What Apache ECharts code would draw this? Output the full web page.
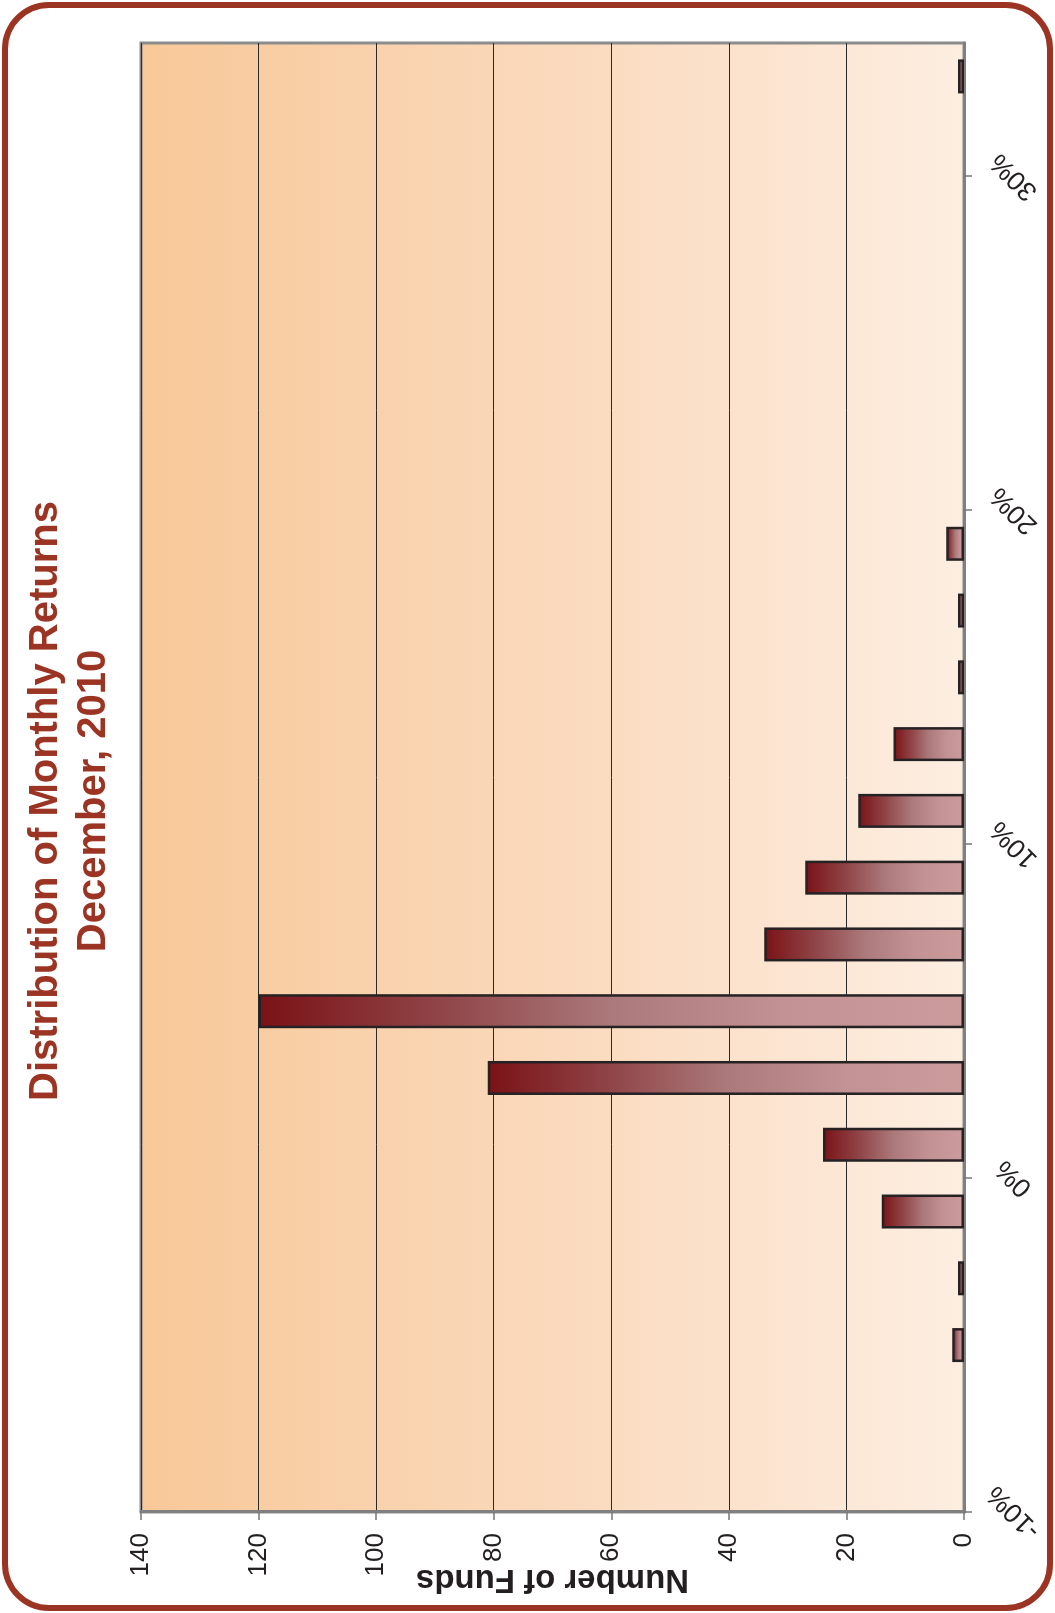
<!DOCTYPE html>
<html>
<head>
<meta charset="utf-8">
<script src="https://cdn.jsdelivr.net/npm/echarts@6/dist/echarts.min.js"></script>
<style>
  html, body { margin: 0; padding: 0; background: #ffffff; overflow: hidden; }
  body { width: 1055px; height: 1613px; position: relative; }
  /* the chart is laid out landscape and turned a quarter turn counter-clockwise */
  #chart {
    position: absolute; left: 0; top: 0;
    width: 1613px; height: 1055px;
    transform-origin: 0 0;
    transform: translate(0, 1613px) rotate(-90deg);
  }
</style>
</head>
<body>
<div id="chart"></div>
<script>
// monthly return bins (bin centres, % return) and number of funds in each bin
const returnBins = [-9, -7, -5, -3, -1, 1, 3, 5, 7, 9, 11, 13, 15, 17, 19, 21, 23, 25, 27, 29, 31, 33];
const fundCounts = [0, 0, 2, 1, 14, 24, 81, 120, 34, 27, 18, 12, 1, 1, 3, 0, 0, 0, 0, 0, 0, 1];
const returnTicks = [-10, 0, 10, 20, 30];
const titleLines = ['Distribution of Monthly Returns', 'December, 2010'];

const FONT = '"Liberation Sans", Arial, Helvetica, sans-serif';
const BRICK = '#9b3422';

const barData = returnBins
  .map((b, i) => [b, fundCounts[i]])
  .filter(d => d[1] > 0);

const chart = echarts.init(document.getElementById('chart'), null, { renderer: 'canvas', width: 1613, height: 1055 });

chart.setOption({
  animation: false,
  backgroundColor: '#ffffff',
  title: {
    text: titleLines.join('\n'),
    left: 807,
    top: 17,
    textAlign: 'center',
    textStyle: {
      fontFamily: FONT,
      fontSize: 40,
      fontWeight: 'bold',
      color: BRICK,
      lineHeight: 48
    }
  },
  graphic: [{
    type: 'rect',
    shape: { x: 5, y: 5, width: 1603, height: 1045, r: 44 },
    style: { fill: 'none', stroke: BRICK, lineWidth: 6 },
    z: 100
  }],
  grid: {
    left: 101,
    right: 43,
    top: 141,
    bottom: 91,
    outerBoundsMode: 'none',
    containLabel: false,
    show: true,
    backgroundColor: new echarts.graphic.LinearGradient(0, 0, 0, 1, [
      { offset: 0, color: '#f8c898' },
      { offset: 0.5, color: '#fad9bc' },
      { offset: 1, color: '#fdeee1' }
    ]),
    borderColor: '#8c8c8c',
    borderWidth: 3
  },
  xAxis: {
    type: 'value',
    min: -10,
    max: 34,
    interval: 10,
    axisLine: { show: true, onZero: false, lineStyle: { color: '#808080', width: 3 } },
    axisTick: { show: true, customValues: returnTicks, length: 8, lineStyle: { color: '#777777', width: 1.5 } },
    splitLine: { show: false },
    axisLabel: {
      customValues: returnTicks,
      formatter: '{value}%',
      rotate: 45,
      align: 'center',
      verticalAlign: 'middle',
      margin: 50,
      fontFamily: FONT,
      fontSize: 27,
      color: '#231f20'
    }
  },
  yAxis: {
    type: 'value',
    min: 0,
    max: 140,
    interval: 20,
    name: 'Number of Funds',
    nameLocation: 'middle',
    nameGap: 51,
    nameMoveOverlap: false,
    nameTextStyle: {
      fontFamily: FONT,
      fontSize: 33,
      fontWeight: 'bold',
      color: '#231f20'
    },
    axisLine: { show: true, onZero: false, lineStyle: { color: '#808080', width: 3 } },
    axisTick: { show: true, length: 8, lineStyle: { color: '#777777', width: 1.5 } },
    splitLine: { show: true, lineStyle: { color: '#2a2a2a', width: 1 } },
    axisLabel: {
      margin: 21,
      fontFamily: FONT,
      fontSize: 26,
      color: '#231f20'
    }
  },
  series: [{
    type: 'bar',
    data: barData,
    barWidth: 34,
    itemStyle: {
      color: new echarts.graphic.LinearGradient(0, 0, 0, 1, [
        { offset: 0, color: '#7a1216' },
        { offset: 0.25, color: '#8f4346' },
        { offset: 0.5, color: '#ab797b' },
        { offset: 0.75, color: '#c39294' },
        { offset: 1, color: '#cc9c9d' }
      ]),
      borderColor: '#262224',
      borderWidth: 2.5
    }
  }]
});
</script>
</body>
</html>
